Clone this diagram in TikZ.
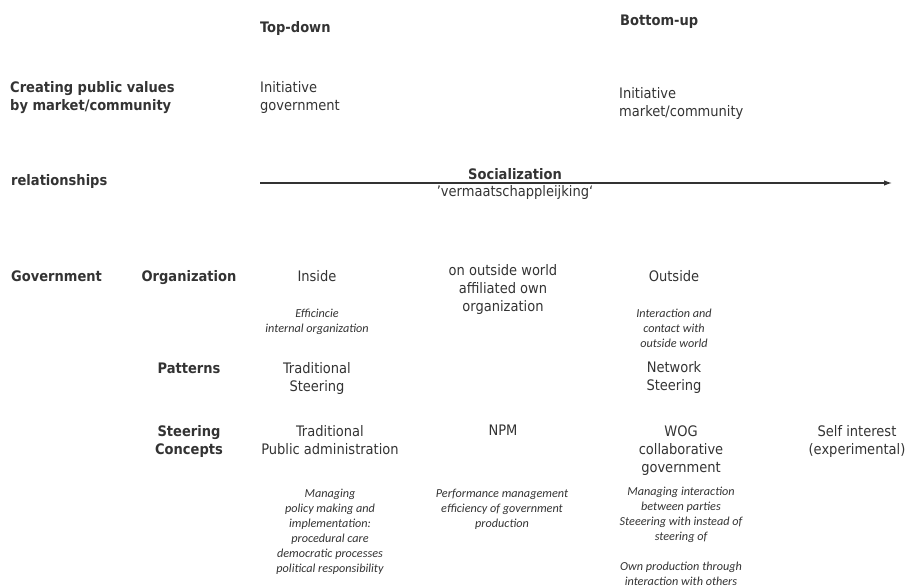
\documentclass[tikz,border=0pt]{standalone}
\usepackage{fontspec}
\setmainfont{DejaVu Sans Condensed}
\newfontfamily\notefont{Carlito}
\usepackage{tikz}
\usetikzlibrary{arrows.meta,positioning}
\definecolor{ink}{gray}{0.2}
% multi-line nodes sit on the baseline of their last line
\tikzstyle{rowlabel} = [anchor=base west,inner sep=0pt,align=left,text=ink,font=\fontsize{14.5}{18}\selectfont\bfseries]
\tikzstyle{sublabel} = [anchor=base,inner sep=0pt,align=center,text=ink,font=\fontsize{14.5}{18}\selectfont\bfseries]
\tikzstyle{entry} = [anchor=base,inner sep=0pt,align=center,text=ink,font=\fontsize{14.5}{18}\selectfont]
\tikzstyle{leftentry} = [entry,anchor=base west,align=left]
\tikzstyle{note} = [anchor=base,inner sep=0pt,align=center,text=ink,font=\notefont\itshape\fontsize{12.2}{15}\selectfont]
\tikzset{>=latex}

\begin{document}
\begin{tikzpicture}[x=1pt,y=-1pt]
  \useasboundingbox (0,0) rectangle (908,588);
  % column heads
  \node [rowlabel] (topdown) at (260,33) {Top-down};
  \node [rowlabel] (bottomup) at (620,26) {Bottom-up};
  % public values
  \node [rowlabel] (values) at (10,111) {Creating public values\\by market/community};
  \node [leftentry] (initgov) at (260,111) {Initiative\\government};
  \node [leftentry] (initmarket) at (619,117) {Initiative\\market/community};
  % relationships and the socialization axis
  \node [rowlabel] (relations) at (11,186) {relationships};
  \coordinate (axisstart) at (260,183);
  \coordinate (axisend) at (892,183);
  \draw [ink,line width=1.2pt,-{Latex[length=8pt,width=5.5pt]}] (axisstart) -- (axisend);
  \node [sublabel] (social) at (515,180) {Socialization};
  \node [entry] (vermaat) at (515,197) {'vermaatschappleijking`};
  % government: organization
  \node [rowlabel] (government) at (11,281) {Government};
  \node [sublabel] (organization) at (189,281) {Organization};
  \node [entry] (inside) at (317,281) {Inside};
  \node [entry] (affiliated) at (503,312) {on outside world\\affiliated own\\organization};
  \node [entry] (outside) at (674,281) {Outside};
  \node [note] (efficiency) at (317,332) {Efficincie\\internal organization};
  \node [note] (contact) at (674,347) {Interaction and\\contact with\\outside world};
  % patterns
  \node [sublabel] (patterns) at (189,373) {Patterns};
  \node [entry] (tradsteer) at (317,391) {Traditional\\Steering};
  \node [entry] (netsteer) at (674,390) {Network\\Steering};
  % steering concepts
  \node [sublabel] (concepts) at (189,454) {Steering\\Concepts};
  \node [entry] (tradpa) at (330,454) {Traditional\\Public administration};
  \node [entry] (npm) at (503,435) {NPM};
  \node [entry] (wog) at (681,472) {WOG\\collaborative\\government};
  \node [entry] (selfint) at (857,454) {Self interest\\(experimental)};
  \node [note] (tradnote) at (330,572) {Managing\\policy making and\\implementation:\\procedural care\\democratic processes\\political responsibility};
  \node [note] (npmnote) at (502,527) {Performance management\\efficiency of government\\production};
  \node [note] (wognote) at (681,585) {Managing interaction\\between parties\\Steeering with instead of\\steering of\\[15pt]Own production through\\interaction with others};
\end{tikzpicture}
\end{document}
